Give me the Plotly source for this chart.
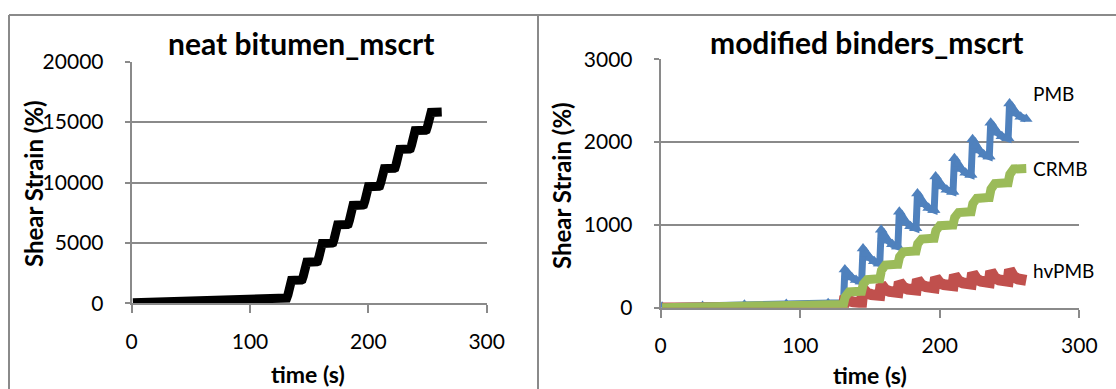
import plotly.graph_objects as go

# ---------------- data ----------------
neat_time = [1, 30, 60, 90, 120, 130.5,
             131, 132, 133, 134, 135, 143.5,
             144, 145, 146, 147, 148, 156.5,
             157, 158, 159, 160, 161, 169.5,
             170, 171, 172, 173, 174, 182.5,
             183, 184, 185, 186, 187, 195.5,
             196, 197, 198, 199, 200, 209,
             209.5, 210.5, 211.5, 212.5, 213.5, 222,
             222.5, 223.5, 224.5, 225.5, 226.5, 235,
             235.5, 236.5, 237.5, 238.5, 239.5, 248.5,
             249, 250, 251, 252, 253, 262]
neat_strain = [50, 130, 210, 290, 380, 420,
               430, 700, 1300, 1800, 1900, 1930,
               1950, 2250, 2850, 3320, 3400, 3430,
               3450, 3750, 4380, 4870, 4950, 4980,
               5000, 5300, 5950, 6420, 6500, 6530,
               6550, 6870, 7520, 8020, 8100, 8130,
               8150, 8450, 9080, 9570, 9650, 9680,
               9700, 10000, 10600, 11070, 11150, 11180,
               11200, 11520, 12180, 12670, 12750, 12780,
               12800, 13100, 13740, 14220, 14300, 14330,
               14350, 14650, 15260, 15720, 15800, 15830]

pmb_time = [1, 30, 60, 90, 120, 130.5,
            131, 132, 134, 137, 140, 143.5,
            144, 145, 147, 150, 153, 156.5,
            157, 158, 160, 163, 166, 169.5,
            170, 171, 173, 176, 179, 182.5,
            183, 184, 186, 189, 192, 195.5,
            196, 197, 199, 202, 205, 209,
            209.5, 210.5, 212.5, 215.5, 218.5, 222,
            222.5, 223.5, 225.5, 228.5, 231.5, 235,
            235.5, 236.5, 238.5, 241.5, 244.5, 248.5,
            249, 250, 252, 255, 258, 262]
pmb_strain = [10, 20, 35, 45, 55, 60,
              60, 460, 410, 365, 335, 315,
              315, 715, 655, 600, 560, 535,
              535, 940, 870, 810, 765, 740,
              740, 1160, 1090, 1030, 985, 960,
              960, 1380, 1310, 1250, 1205, 1180,
              1180, 1585, 1520, 1465, 1425, 1400,
              1400, 1805, 1735, 1675, 1630, 1605,
              1605, 2035, 1960, 1898, 1850, 1825,
              1825, 2235, 2170, 2112, 2070, 2045,
              2045, 2465, 2400, 2345, 2305, 2280]

hvpmb_time = [1, 30, 60, 90, 120, 130.5,
              131, 132, 133, 135, 138, 143.5,
              144, 145, 146, 148, 151, 156.5,
              157, 158, 159, 161, 164, 169.5,
              170, 171, 172, 174, 177, 182.5,
              183, 184, 185, 187, 190, 195.5,
              196, 197, 198, 200, 203, 209,
              209.5, 210.5, 211.5, 213.5, 216.5, 222,
              222.5, 223.5, 224.5, 226.5, 229.5, 235,
              235.5, 236.5, 237.5, 239.5, 242.5, 248.5,
              249, 250, 251, 253, 256, 262]
hvpmb_strain = [-5, -3, 0, 2, 4, 5,
                5, 140, 108, 85, 70, 60,
                60, 230, 196, 173, 158, 150,
                150, 280, 243, 216, 196, 185,
                185, 310, 273, 246, 226, 215,
                215, 340, 300, 272, 253, 240,
                240, 365, 326, 297, 278, 265,
                265, 395, 352, 321, 300, 285,
                285, 420, 375, 343, 320, 305,
                305, 440, 392, 360, 336, 320,
                320, 460, 410, 374, 348, 330]

crmb_time = [1, 30, 60, 90, 120, 130.5,
             131, 132.2, 133.5, 135, 143.5,
             144, 145.2, 146.5, 148, 156.5,
             157, 158.2, 159.5, 161, 169.5,
             170, 171.2, 172.5, 174, 182.5,
             183, 184.2, 185.5, 187, 195.5,
             196, 197.2, 198.5, 200, 209,
             209.5, 210.7, 212, 213.5, 222,
             222.5, 223.7, 225, 226.5, 235,
             235.5, 236.7, 238, 239.5, 248.5,
             249, 250.2, 251.5, 253, 262]
crmb_strain = [0, 10, 18, 27, 35, 40,
               40, 130, 185, 190, 200,
               200, 285, 335, 340, 350,
               350, 450, 508, 515, 525,
               525, 615, 670, 675, 685,
               685, 772, 825, 830, 840,
               840, 930, 985, 990, 1000,
               1000, 1090, 1145, 1150, 1160,
               1160, 1257, 1315, 1320, 1330,
               1330, 1432, 1494, 1500, 1510,
               1510, 1610, 1670, 1675, 1680]

left_title = "neat bitumen_mscrt"
right_title = "modified binders_mscrt"
y_title = "Shear Strain (%)"
x_title = "time (s)"
x_ticks = [0, 100, 200, 300]
left_y_ticks = [0, 5000, 10000, 15000, 20000]
right_y_ticks = [0, 1000, 2000, 3000]
series_labels = ["PMB", "CRMB", "hvPMB"]

# ---------------- layout helpers ----------------
W, H = 1116, 389
def px(x):
    return x / W
def py(y):
    return 1 - y / H

FONT = "Lato"
GRID = "#8a8a8a"
BLUE, RED, GREEN = "#4F81BD", "#C0504D", "#9BBB59"

fig = go.Figure()

fig.add_trace(go.Scatter(x=neat_time, y=neat_strain, mode="lines",
                         line=dict(color="black", width=9),
                         xaxis="x", yaxis="y", showlegend=False))

fig.add_trace(go.Scatter(x=pmb_time, y=pmb_strain, mode="lines+markers",
                         line=dict(color=BLUE, width=7),
                         marker=dict(symbol="triangle-up", size=11, color=BLUE),
                         xaxis="x2", yaxis="y2", showlegend=False))
fig.add_trace(go.Scatter(x=hvpmb_time, y=hvpmb_strain, mode="lines",
                         line=dict(color=RED, width=11),
                         xaxis="x2", yaxis="y2", showlegend=False))
fig.add_trace(go.Scatter(x=crmb_time, y=crmb_strain, mode="lines",
                         line=dict(color=GREEN, width=9),
                         xaxis="x2", yaxis="y2", showlegend=False))

xcommon = dict(range=[0, 300], tickvals=x_ticks, showgrid=False, zeroline=False,
               showline=True, linecolor=GRID, linewidth=2,
               ticks="outside", ticklen=8, tickwidth=2, tickcolor=GRID,
               tickfont=dict(family=FONT, size=21, color="black"),
               ticklabelstandoff=10, fixedrange=True, automargin=False)
ycommon = dict(showgrid=True, gridcolor=GRID, gridwidth=2, zeroline=False,
               showline=True, linecolor=GRID, linewidth=2,
               ticks="outside", ticklen=5, tickwidth=2, tickcolor=GRID,
               tickformat="d",
               tickfont=dict(family=FONT, size=21, color="black"),
               ticklabelstandoff=17, fixedrange=True, automargin=False)

fig.update_layout(
    template="none",
    width=W, height=H,
    margin=dict(l=0, r=0, t=0, b=0, pad=0, autoexpand=False),
    paper_bgcolor="white", plot_bgcolor="white",
    xaxis=dict(domain=[px(131.7), px(486.7)], anchor="y", **xcommon),
    yaxis=dict(domain=[py(303.3), py(61.7)], anchor="x", range=[0, 20000],
               tickvals=left_y_ticks, **ycommon),
    xaxis2=dict(domain=[px(660.7), px(1079.3)], anchor="y2", **xcommon),
    yaxis2=dict(domain=[py(307.7), py(59.3)], anchor="x2", range=[0, 3000],
                tickvals=right_y_ticks, **ycommon),
)

ann = []
def add_text(text, x, y, size, bold=False, angle=0, xanchor="center"):
    ann.append(dict(text=f"<b>{text}</b>" if bold else text,
                    x=px(x), y=py(y), xref="paper", yref="paper",
                    xanchor=xanchor, yanchor="middle", showarrow=False,
                    textangle=angle,
                    font=dict(family=FONT, size=size, color="black")))

add_text(left_title, 301, 43, 30, bold=True)
add_text(right_title, 866, 42, 30, bold=True)
add_text(y_title, 33, 184, 24, bold=True, angle=-90)
add_text(y_title, 561, 186, 24, bold=True, angle=-90)
add_text(x_title, 308, 374, 23, bold=True)
add_text(x_title, 870, 375, 23, bold=True)
add_text(series_labels[0], 1031, 93, 19, xanchor="left")
add_text(series_labels[1], 1031, 168, 19, xanchor="left")
add_text(series_labels[2], 1031, 270, 19, xanchor="left")
fig.update_layout(annotations=ann)

# chart-area borders
border = dict(color=GRID, width=2)
fig.update_layout(shapes=[
    dict(type="line", xref="paper", yref="paper", x0=px(9), x1=1, y0=py(15), y1=py(15), line=border),
    dict(type="line", xref="paper", yref="paper", x0=px(9), x1=px(9), y0=py(15), y1=0, line=border),
    dict(type="line", xref="paper", yref="paper", x0=px(538), x1=px(538), y0=py(15), y1=0, line=border),
])

fig.write_html("out.html",
               post_script="document.body.style.margin='0';document.body.style.padding='0';")
